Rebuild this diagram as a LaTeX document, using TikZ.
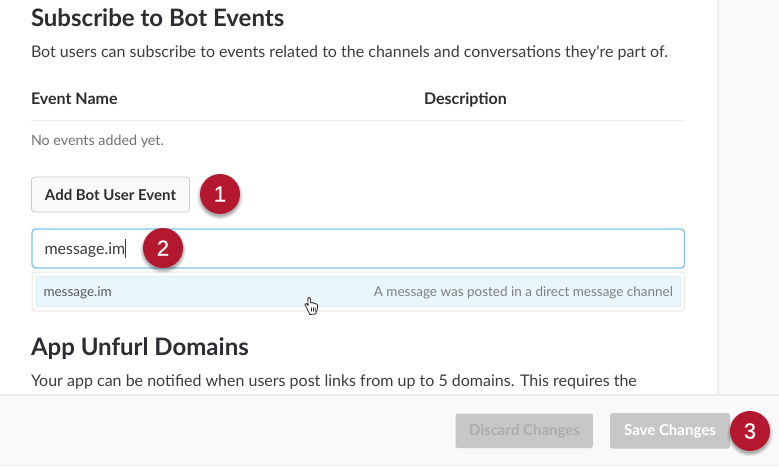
\documentclass[tikz,border=0pt]{standalone}
\usepackage{fontspec}
\setmainfont[Ligatures=TeXOff]{Lato}
\setsansfont[FakeBold=0.6]{Liberation Sans}
\usetikzlibrary{calc}
\definecolor{ink}{HTML}{2C2D30}
\definecolor{body}{HTML}{3D3C40}
\definecolor{muted}{HTML}{717274}
\definecolor{panel}{HTML}{F9F9F9}
\definecolor{edge}{HTML}{ECECEC}
\definecolor{focus}{HTML}{7FC4EC}
\definecolor{hilite}{HTML}{EAF5FC}
\definecolor{hiliteedge}{HTML}{DDEEF8}
\definecolor{badgered}{HTML}{B3182E}
\definecolor{btngrey}{HTML}{C7C7C7}
\tikzset{
  txt/.style={anchor=base west,inner sep=0pt,outer sep=0pt},
  heading/.style={txt,text=ink,font=\fontsize{24}{28}\selectfont\bfseries},
  para/.style={txt,text=body,font=\fontsize{16}{19}\selectfont},
  colhead/.style={txt,text=ink,font=\fontsize{16}{19}\selectfont\bfseries},
  small/.style={txt,text=muted,font=\fontsize{13.5}{16}\selectfont},
  badge/.style={circle,fill=badgered,text=white,minimum size=40pt,inner sep=0pt,font=\sffamily\fontsize{22}{26}\selectfont},
  btntext/.style={anchor=center,inner sep=0pt,font=\fontsize{15}{18}\selectfont\bfseries},
}
\newcommand{\badgeshadow}[2]{%
  \foreach \r/\o in {23/.05,22/.07,21/.09,20/.12}{
    \fill[black,opacity=\o] (#1,#2+2.5) circle (\r);
  }%
}
\begin{document}
\begin{tikzpicture}[x=1pt,y=-1pt]
\useasboundingbox (0,0) rectangle (779,466);
% page
\fill[white] (0,0) rectangle (779,466);
\fill[panel] (718,0) rectangle (779,395);
\fill[edge] (717,0) rectangle (718.5,395);
% section 1
\node[heading] (title) at (31,26) {Subscribe to Bot Events};
\node[para] (intro) at (31,57.5) {Bot users can subscribe to events related to the channels and conversations they're part of.};
\node[colhead] (evname) at (31,104.5) {Event Name};
\node[colhead] (desc) at (424,104.5) {Description};
\fill[edge] (31,119.5) rectangle (685,121);
\node[small,font=\fontsize{14.3}{16}\selectfont] (none) at (31,145.5) {No events added yet.};
% add button
\draw[rounded corners=3pt,draw=black!20,fill=panel,line width=.8pt] (31.5,177) rectangle (189.5,212);
\node[btntext,text=ink] (addbtn) at (110.5,194.5) {Add Bot User Event};
% input
\draw[rounded corners=3.5pt,draw=focus,fill=white,line width=1.3pt] (32,229) rectangle (684.5,268);
\node[para] (input) at (44.5,254) {message.im};
\draw[body,line width=.7pt] (125.5,239) -- (125.5,258);
% dropdown
\draw[rounded corners=3pt,draw=black!9,fill=white,line width=1pt] (32,272) rectangle (684.5,311);
\filldraw[fill=hilite,draw=hiliteedge,line width=.8pt] (36.5,276.5) rectangle (680.5,306.5);
\node[small,text=body!85] (opt) at (43.5,296) {message.im};
\node[small,anchor=base east,text=muted!90] (optdesc) at (673,296) {A message was posted in a direct message channel};
% cursor
\begin{scope}[shift={(311,306)}]
\filldraw[fill=white,draw=black!85,line width=.8pt,line join=round]
 (-6,-2) .. controls (-5,-3.5) and (-3.5,-2) .. (-2.8,-.5) -- (-3.2,-7)
 .. controls (-3.1,-9.3) and (-.8,-9.3) .. (-.6,-7) -- (-.3,-3)
 .. controls (1,-4) and (2,-3.5) .. (2.3,-2.7)
 .. controls (3.4,-3.5) and (4.4,-3) .. (4.6,-2)
 .. controls (5.7,-2.6) and (6.7,-1.8) .. (6.7,-.5)
 .. controls (6.8,2.5) and (6,5.5) .. (4.5,8) -- (-1.2,8.5)
 .. controls (-2.3,6) and (-4,3) .. (-6,-2) -- cycle;
\draw[black!85,line width=.7pt] (0.4,1.5) -- (0.6,5.5) (2.4,1.5) -- (2.5,5.5) (4.3,1.5) -- (4.2,5.5);
\end{scope}
% section 2
\node[heading] (title2) at (31,355.5) {App Unfurl Domains};
\node[para] (intro2) at (31,386) {Your app can be notified when users post links from up to 5 domains. This requires the};
% footer
\fill[panel] (0,395) rectangle (779,466);
\fill[edge] (0,394.2) rectangle (779,395.6);
\fill[edge] (0,465) rectangle (779,466);
\fill[btngrey,rounded corners=2.5pt] (455.5,413.5) rectangle (593,448);
\node[btntext,text=black!32] (discard) at (524.5,431) {Discard Changes};
\fill[btngrey,rounded corners=2.5pt] (610,413) rectangle (730,448.5);
\node[btntext,text=white] (save) at (670,431) {Save Changes};
% badges
\badgeshadow{220}{194}
\node[badge] (b1) at (220,194) {1};
\badgeshadow{163}{248}
\node[badge] (b2) at (163,248) {2};
\badgeshadow{750}{431}
\node[badge] (b3) at (750,431) {3};
\end{tikzpicture}
\end{document}
